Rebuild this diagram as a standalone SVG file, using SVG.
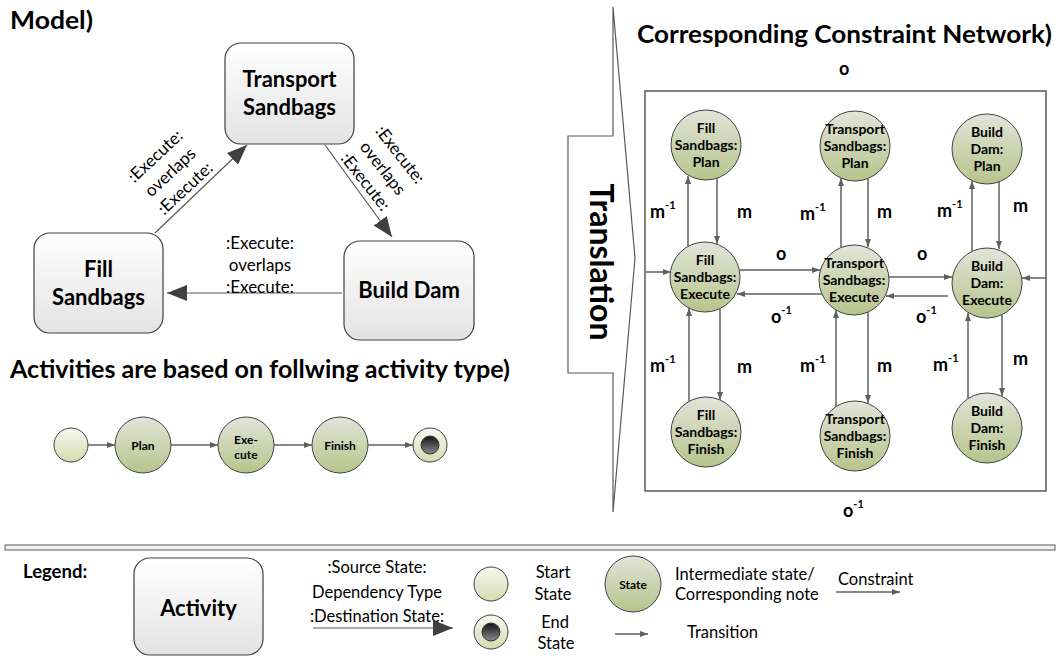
<svg xmlns="http://www.w3.org/2000/svg" width="1059" height="659" viewBox="0 0 1059 659">
<defs>
<linearGradient id="gBox" x1="0" y1="0" x2="0" y2="1"><stop offset="0" stop-color="#ffffff"/><stop offset="1" stop-color="#e3e3e3"/></linearGradient>
<linearGradient id="gState" x1="0" y1="0" x2="0" y2="1"><stop offset="0" stop-color="#e2e4d9"/><stop offset="1" stop-color="#b6c48b"/></linearGradient>
<linearGradient id="gStart" x1="0" y1="0" x2="0" y2="1"><stop offset="0" stop-color="#f8f9f1"/><stop offset="1" stop-color="#d3dcb0"/></linearGradient>
<linearGradient id="gEnd" x1="0" y1="0" x2="0" y2="1"><stop offset="0" stop-color="#141414"/><stop offset="1" stop-color="#8a8a8a"/></linearGradient>
<marker id="big" viewBox="0 0 20 16" refX="20" refY="8" markerWidth="20" markerHeight="16" markerUnits="userSpaceOnUse" orient="auto"><path d="M0,0 L20,8 L0,16 z" fill="#404040"/></marker>
<marker id="sm" viewBox="0 0 8 6" refX="8" refY="3" markerWidth="8" markerHeight="6" markerUnits="userSpaceOnUse" orient="auto"><path d="M0,0 L8,3 L0,6 z" fill="#5f5f5f"/></marker>
<style>
.t{font-family:Lato,"Liberation Sans",sans-serif;fill:#000}
.title{font-size:25px;font-weight:bold}
.act{fill:url(#gBox);stroke:#404040;stroke-width:1.2}
.an{font-size:22px;font-weight:bold;text-anchor:middle}
.dep{font-size:17px;text-anchor:middle}
.st{fill:url(#gState);stroke:#404040;stroke-width:1}
.sn{font-size:14px;font-weight:bold;text-anchor:middle}
.ss{font-size:12px;font-weight:bold;text-anchor:middle}
.start{fill:url(#gStart);stroke:#404040;stroke-width:1}
.dl{fill:none;stroke:#595959;stroke-width:1.2;marker-end:url(#big)}
.tr{fill:none;stroke:#5f5f5f;stroke-width:1.5;marker-end:url(#sm)}
.cl{font-size:18px;font-weight:bold}
.lg{font-size:16.5px}
</style>
</defs>

<!-- Section titles -->
<text class="t title" x="10" y="29" textLength="83" lengthAdjust="spacingAndGlyphs">Model)</text>
<text class="t title" x="10" y="378" textLength="500" lengthAdjust="spacingAndGlyphs">Activities are based on follwing activity type)</text>
<text class="t title" x="637" y="43" textLength="415" lengthAdjust="spacingAndGlyphs">Corresponding Constraint Network)</text>

<!-- Model activities -->
<g id="act-transport"><rect class="act" x="225" y="43" width="129" height="101" rx="16"/><text class="t an" x="289.5" y="87">Transport</text><text class="t an" x="289.5" y="115">Sandbags</text></g>
<g id="act-fill"><rect class="act" x="34" y="233" width="129" height="100" rx="16"/><text class="t an" x="98.5" y="277">Fill</text><text class="t an" x="98.5" y="305">Sandbags</text></g>
<g id="act-build"><rect class="act" x="344" y="241" width="130" height="99" rx="16"/><text class="t an" x="409" y="298">Build Dam</text></g>

<g id="model-connectors">
<path class="dl" d="M155,233 L247,145"/>
<path class="dl" d="M325,145 L392,237"/>
<path class="dl" d="M342,293 L167,293"/>
<g transform="translate(170,172) rotate(-43)"><text class="t dep" x="0" y="-16">:Execute:</text><text class="t dep" x="0" y="6">overlaps</text><text class="t dep" x="0" y="28">:Execute:</text></g>
<g transform="translate(383,168) rotate(52)"><text class="t dep" x="0" y="-16">:Execute:</text><text class="t dep" x="0" y="6">overlaps</text><text class="t dep" x="0" y="28">:Execute:</text></g>
<text class="t dep" x="260" y="249">:Execute:</text><text class="t dep" x="260" y="271">overlaps</text><text class="t dep" x="260" y="293">:Execute:</text>
</g>

<!-- Activity type -->
<g id="type-start"><circle class="start" cx="71" cy="445" r="17"/></g>
<g id="type-plan"><circle class="st" cx="143" cy="445" r="28"/><text class="t ss" x="143" y="450">Plan</text></g>
<g id="type-execute"><circle class="st" cx="246" cy="445" r="28"/><text class="t ss" x="246" y="444">Exe-</text><text class="t ss" x="246" y="459">cute</text></g>
<g id="type-finish"><circle class="st" cx="340" cy="445" r="28"/><text class="t ss" x="340" y="450">Finish</text></g>
<g id="type-end"><circle class="start" cx="430" cy="445" r="17"/><circle cx="430" cy="445" r="9" fill="url(#gEnd)" stroke="#333" stroke-width="1"/></g>
<g id="type-connectors">
<path class="tr" d="M88,445 L115,445"/>
<path class="tr" d="M171,445 L218,445"/>
<path class="tr" d="M274,445 L312,445"/>
<path class="tr" d="M368,445 L413,445"/>
</g>

<!-- Translation -->
<g id="translation">
<path d="M613,7 L635,258 L613,512 L613,373 L568,373 L568,136 L613,136 Z" fill="#fff" stroke="#595959" stroke-width="1.2"/>
<text class="t" transform="translate(590,262) rotate(90)" text-anchor="middle" font-size="32" font-weight="bold">Translation</text>
</g>

<!-- Constraint network -->
<g id="net-frame"><rect x="645" y="91" width="401" height="400" fill="none" stroke="#595959" stroke-width="1.5"/></g>

<g id="n-fill-plan"><circle class="st" cx="706" cy="145" r="35"/><text class="t sn" x="706" y="133">Fill</text><text class="t sn" x="706" y="150">Sandbags:</text><text class="t sn" x="706" y="167">Plan</text></g>
<g id="n-transport-plan"><circle class="st" cx="855" cy="146" r="35"/><text class="t sn" x="855" y="134">Transport</text><text class="t sn" x="855" y="151">Sandbags:</text><text class="t sn" x="855" y="168">Plan</text></g>
<g id="n-build-plan"><circle class="st" cx="987" cy="149" r="35"/><text class="t sn" x="987" y="137">Build</text><text class="t sn" x="987" y="154">Dam:</text><text class="t sn" x="987" y="171">Plan</text></g>
<g id="n-fill-exec"><circle class="st" cx="705" cy="277" r="35"/><text class="t sn" x="705" y="265">Fill</text><text class="t sn" x="705" y="282">Sandbags:</text><text class="t sn" x="705" y="299">Execute</text></g>
<g id="n-transport-exec"><circle class="st" cx="854" cy="280" r="35"/><text class="t sn" x="854" y="268">Transport</text><text class="t sn" x="854" y="285">Sandbags:</text><text class="t sn" x="854" y="302">Execute</text></g>
<g id="n-build-exec"><circle class="st" cx="987" cy="283" r="35"/><text class="t sn" x="987" y="271">Build</text><text class="t sn" x="987" y="288">Dam:</text><text class="t sn" x="987" y="305">Execute</text></g>
<g id="n-fill-finish"><circle class="st" cx="706" cy="432" r="35"/><text class="t sn" x="706" y="420">Fill</text><text class="t sn" x="706" y="437">Sandbags:</text><text class="t sn" x="706" y="454">Finish</text></g>
<g id="n-transport-finish"><circle class="st" cx="855" cy="436" r="35"/><text class="t sn" x="855" y="424">Transport</text><text class="t sn" x="855" y="441">Sandbags:</text><text class="t sn" x="855" y="458">Finish</text></g>
<g id="n-build-finish"><circle class="st" cx="987" cy="428" r="35"/><text class="t sn" x="987" y="416">Build</text><text class="t sn" x="987" y="433">Dam:</text><text class="t sn" x="987" y="450">Finish</text></g>

<g id="net-connectors">
<path class="tr" d="M688,246 L688,176"/>
<path class="tr" d="M717,178 L717,244"/>
<path class="tr" d="M841,247 L841,178"/>
<path class="tr" d="M868,179 L868,247"/>
<path class="tr" d="M972,251 L972,181"/>
<path class="tr" d="M999,182 L999,249"/>
<path class="tr" d="M689,401 L689,308"/>
<path class="tr" d="M720,309 L720,400"/>
<path class="tr" d="M836,407 L836,310"/>
<path class="tr" d="M868,312 L868,403"/>
<path class="tr" d="M968,399 L968,313"/>
<path class="tr" d="M1002,315 L1002,396"/>
<path class="tr" d="M645,272 L671,272"/>
<path class="tr" d="M739,270 L820,270"/>
<path class="tr" d="M889,277 L952,277"/>
<path class="tr" d="M1046,278 L1022,278"/>
<path class="tr" d="M948,296 L886,296"/>
<path class="tr" d="M822,294 L737,294"/>
<text class="t cl" x="650" y="218">m<tspan dy="-9" font-size="11">-1</tspan></text>
<text class="t cl" x="737" y="218">m</text>
<text class="t cl" x="800" y="220">m<tspan dy="-9" font-size="11">-1</tspan></text>
<text class="t cl" x="877" y="218">m</text>
<text class="t cl" x="937" y="217">m<tspan dy="-9" font-size="11">-1</tspan></text>
<text class="t cl" x="1013" y="212">m</text>
<text class="t cl" x="650" y="372">m<tspan dy="-9" font-size="11">-1</tspan></text>
<text class="t cl" x="737" y="373">m</text>
<text class="t cl" x="800" y="372">m<tspan dy="-9" font-size="11">-1</tspan></text>
<text class="t cl" x="877" y="372">m</text>
<text class="t cl" x="933" y="371">m<tspan dy="-9" font-size="11">-1</tspan></text>
<text class="t cl" x="1013" y="365">m</text>
<text class="t cl" x="776" y="260">o</text>
<text class="t cl" x="917" y="260">o</text>
<text class="t cl" x="771" y="323">o<tspan dy="-9" font-size="11">-1</tspan></text>
<text class="t cl" x="916" y="323">o<tspan dy="-9" font-size="11">-1</tspan></text>
<text class="t cl" x="839" y="75">o</text>
<text class="t cl" x="843" y="517">o<tspan dy="-9" font-size="11">-1</tspan></text>
</g>

<!-- Legend -->
<g id="legend">
<rect x="5" y="545" width="1050" height="5" fill="#f2f2f2" stroke="#595959" stroke-width="1"/>
<text class="t" x="23" y="578" font-size="18.5" font-weight="bold">Legend:</text>
<g id="lg-activity"><rect class="act" x="134" y="558" width="129" height="97" rx="16"/><text class="t an" x="198.5" y="616">Activity</text></g>
<g id="lg-dependency"><text class="t lg" x="377" y="573" text-anchor="middle">:Source State:</text><text class="t lg" x="377" y="598" text-anchor="middle">Dependency Type</text><text class="t lg" x="377" y="622" text-anchor="middle">:Destination State:</text><path class="dl" d="M313,628 L453,628"/></g>
<g id="lg-start"><circle class="start" cx="491" cy="584" r="17"/><text class="t lg" x="553" y="578" text-anchor="middle">Start</text><text class="t lg" x="553" y="600" text-anchor="middle">State</text></g>
<g id="lg-end"><circle class="start" cx="491" cy="632" r="17"/><circle cx="491" cy="632" r="9" fill="url(#gEnd)" stroke="#333" stroke-width="1"/><text class="t lg" x="555" y="628" text-anchor="middle">End</text><text class="t lg" x="556" y="649" text-anchor="middle">State</text></g>
<g id="lg-state"><circle class="st" cx="633" cy="584" r="28"/><text class="t ss" x="633" y="589">State</text><text class="t lg" x="675" y="580">Intermediate state/</text><text class="t lg" x="675" y="600">Corresponding note</text></g>
<g id="lg-constraint"><text class="t lg" x="838" y="585">Constraint</text><path class="tr" d="M836,592 L900,592"/></g>
<g id="lg-transition"><path class="tr" d="M615,634 L648,634"/><text class="t lg" x="687" y="638">Transition</text></g>
</g>
</svg>
